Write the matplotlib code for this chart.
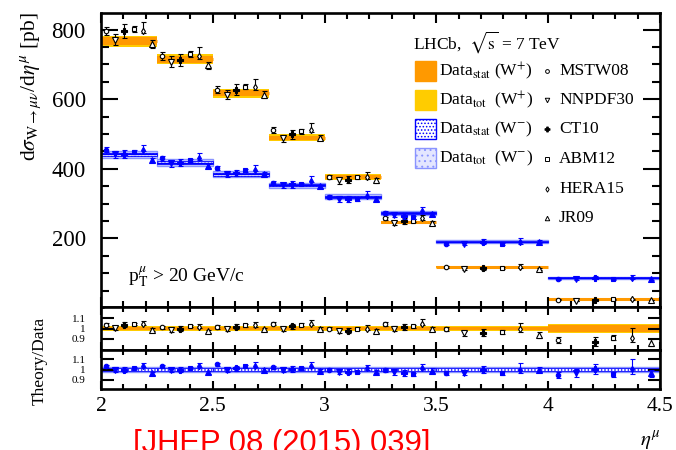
import matplotlib
matplotlib.use("Agg")
import matplotlib.pyplot as plt
from matplotlib.patches import Rectangle
from matplotlib.ticker import MultipleLocator, FuncFormatter

plt.rcParams['font.family'] = ['Liberation Serif', 'DejaVu Serif']
plt.rcParams['mathtext.fontset'] = 'stix'
plt.rcParams['hatch.linewidth'] = 0.7

# ---------------- data ----------------
eta_edges = [2.0, 2.25, 2.5, 2.75, 3.0, 3.25, 3.5, 4.0, 4.5]

# measured dsigma/deta [pb] and relative uncertainties
wplus_xsec = [767, 715, 617, 489, 376, 246, 119, 27]
wplus_stat = [0.014, 0.014, 0.014, 0.014, 0.014, 0.015, 0.018, 0.036]
wplus_tot = [0.021, 0.021, 0.021, 0.021, 0.021, 0.022, 0.026, 0.045]

wminus_xsec = [442, 418, 384, 353, 320, 274, 191, 87]
wminus_stat = [0.010, 0.010, 0.010, 0.010, 0.010, 0.011, 0.012, 0.014]
wminus_tot = [0.022, 0.022, 0.022, 0.022, 0.022, 0.022, 0.024, 0.025]

# theory / data ratios per PDF set
mstw08_wplus = [1.038, 1.013, 1.016, 1.048, 1.000, 1.048, 0.997, 0.889]
nnpdf30_wplus = [1.006, 0.990, 0.994, 0.997, 0.975, 0.997, 0.952, 0.750]
ct10_wplus = [1.038, 0.997, 1.016, 1.022, 0.980, 1.016, 0.959, 0.873]
abm12_wplus = [1.045, 1.022, 1.030, 1.038, 1.000, 1.022, 0.968, 0.911]
hera15_wplus = [1.040, 1.013, 1.030, 1.048, 1.000, 1.048, 0.997, 0.911]
jr09_wplus = [0.990, 0.975, 0.994, 1.000, 0.975, 0.994, 0.937, 0.863]

mstw08_wminus = [1.030, 1.030, 1.050, 1.020, 1.000, 0.994, 0.968, 0.943]
nnpdf30_wminus = [1.000, 0.994, 1.000, 1.000, 0.980, 0.975, 0.968, 0.962]
ct10_wminus = [1.000, 1.000, 1.010, 1.006, 0.980, 0.968, 1.000, 1.006]
abm12_wminus = [1.016, 1.016, 1.030, 1.010, 0.975, 0.952, 0.962, 0.952]
hera15_wminus = [1.030, 1.030, 1.035, 1.035, 1.010, 1.016, 1.000, 1.006]
jr09_wminus = [0.962, 0.975, 1.000, 0.990, 0.980, 0.990, 1.000, 0.962]

# relative theory uncertainties (down, up)
mstw08_err = ([0.016, 0.016, 0.016, 0.017, 0.017, 0.019, 0.022, 0.030],
              [0.016, 0.016, 0.016, 0.017, 0.017, 0.019, 0.022, 0.030])
nnpdf30_err = ([0.022, 0.022, 0.022, 0.022, 0.024, 0.025, 0.027, 0.040],
               [0.022, 0.022, 0.022, 0.022, 0.024, 0.025, 0.027, 0.040])
ct10_err = ([0.025, 0.025, 0.025, 0.026, 0.028, 0.030, 0.038, 0.048],
            [0.025, 0.025, 0.025, 0.026, 0.028, 0.030, 0.038, 0.048])
abm12_err = ([0.011, 0.011, 0.011, 0.012, 0.012, 0.014, 0.020, 0.025],
             [0.011, 0.011, 0.011, 0.012, 0.012, 0.014, 0.020, 0.025])
hera15_err = ([0.010, 0.010, 0.012, 0.012, 0.012, 0.014, 0.030, 0.050],
              [0.032, 0.034, 0.036, 0.036, 0.038, 0.040, 0.060, 0.100])
jr09_err = ([0.015, 0.015, 0.015, 0.015, 0.016, 0.020, 0.028, 0.035],
            [0.015, 0.015, 0.015, 0.015, 0.016, 0.020, 0.028, 0.035])

model_names = ["MSTW08", "NNPDF30", "CT10", "ABM12", "HERA15", "JR09"]
model_wplus = [mstw08_wplus, nnpdf30_wplus, ct10_wplus, abm12_wplus, hera15_wplus, jr09_wplus]
model_wminus = [mstw08_wminus, nnpdf30_wminus, ct10_wminus, abm12_wminus, hera15_wminus, jr09_wminus]
model_err = [mstw08_err, nnpdf30_err, ct10_err, abm12_err, hera15_err, jr09_err]
model_marker = ['o', 'v', 'P', 's', 'd', '^']
model_msize = [3.2, 3.8, 4.2, 3.4, 3.2, 3.8]

# ---------------- style ----------------
C_STAT_P = '#ff9900'
C_TOT_P = '#ffcc00'
C_BLUE = '#0000ff'
C_TOT_M_FACE = '#c4c9ff'
C_TOT_M_EDGE = '#8a94ff'

W, H = 676, 450
fig = plt.figure(figsize=(W / 100, H / 100), dpi=100)
L, R = 101, 660


def box(top, bottom):
    return [L / W, 1 - bottom / H, (R - L) / W, (bottom - top) / H]


ax = fig.add_axes(box(13, 307))
axp = fig.add_axes(box(307, 350))
axm = fig.add_axes(box(350, 389))


def bands(a, vals, stat, tot, plus, ratio=False):
    for i in range(len(vals)):
        lo, hi = eta_edges[i], eta_edges[i + 1]
        c = 1.0 if ratio else vals[i]
        if plus:
            a.add_patch(Rectangle((lo, c * (1 - tot[i])), hi - lo, 2 * c * tot[i],
                                  facecolor=C_TOT_P, edgecolor='none', zorder=1))
            a.add_patch(Rectangle((lo, c * (1 - stat[i])), hi - lo, 2 * c * stat[i],
                                  facecolor=C_STAT_P, edgecolor='none', zorder=1.2))
            if not ratio:
                a.plot([lo, hi], [c, c], color=C_STAT_P, lw=2.2, zorder=1.3,
                       solid_capstyle='butt')
        else:
            a.add_patch(Rectangle((lo, c * (1 - tot[i])), hi - lo, 2 * c * tot[i],
                                  facecolor=C_TOT_M_FACE, edgecolor=C_TOT_M_EDGE,
                                  lw=1.0, zorder=1))
            a.add_patch(Rectangle((lo, c * (1 - stat[i])), hi - lo, 2 * c * stat[i],
                                  facecolor='white', edgecolor=C_BLUE, hatch='.....',
                                  lw=0.6, zorder=1.2))
            if not ratio:
                a.plot([lo, hi], [c, c], color=C_BLUE, lw=1.0, zorder=1.3,
                       solid_capstyle='butt')


def theory(a, data, ratios, plus, ratio_panel=False):
    for k in range(6):
        xs, ys, edn, eup = [], [], [], []
        for i in range(len(data)):
            lo, hi = eta_edges[i], eta_edges[i + 1]
            xs.append(lo + (k + 0.5) / 6 * (hi - lo))
            v = ratios[k][i] if ratio_panel else ratios[k][i] * data[i]
            ys.append(v)
            edn.append(model_err[k][0][i] * v)
            eup.append(model_err[k][1][i] * v)
        col = 'black' if plus else C_BLUE
        face = col if (not plus or model_marker[k] == 'P') else 'white'
        a.errorbar(xs, ys, yerr=[edn, eup], fmt=model_marker[k], ms=model_msize[k],
                   mfc=face, mec=col, mew=0.8, color=col, elinewidth=0.8,
                   capsize=1.8, capthick=0.8, zorder=3)


# main panel
bands(ax, wplus_xsec, wplus_stat, wplus_tot, True)
bands(ax, wminus_xsec, wminus_stat, wminus_tot, False)
theory(ax, wplus_xsec, model_wplus, True)
theory(ax, wminus_xsec, model_wminus, False)

# ratio panels
bands(axp, wplus_xsec, wplus_stat, wplus_tot, True, ratio=True)
theory(axp, wplus_xsec, model_wplus, True, ratio_panel=True)
bands(axm, wminus_xsec, wminus_stat, wminus_tot, False, ratio=True)
theory(axm, wminus_xsec, model_wminus, False, ratio_panel=True)

for a in (ax, axp, axm):
    a.set_xlim(2.0, 4.5)
    a.xaxis.set_major_locator(MultipleLocator(0.5))
    a.xaxis.set_minor_locator(MultipleLocator(0.1))
    a.xaxis.set_major_formatter(FuncFormatter(lambda v, p: f'{v:g}'))
    a.tick_params(axis='both', which='both', direction='in', top=True, right=True)
    for s in a.spines.values():
        s.set_linewidth(1.9)

ax.set_ylim(3, 848)
ax.yaxis.set_major_locator(MultipleLocator(200))
ax.yaxis.set_minor_locator(MultipleLocator(50))
ax.tick_params(axis='y', which='major', length=12, width=1.5, labelsize=16.5, pad=11)
ax.tick_params(axis='y', which='minor', length=6, width=1.5)
ax.tick_params(axis='x', which='major', length=7, width=1.5, labelbottom=False)
ax.tick_params(axis='x', which='minor', length=4, width=1.5)

for a, lim in ((axp, (0.79, 1.21)), (axm, (0.81, 1.19))):
    a.set_ylim(*lim)
    a.set_yticks([0.9, 1.0, 1.1])
    a.set_yticklabels(['0.9', '1', '1.1'])
    a.yaxis.set_minor_locator(MultipleLocator(0.1))
    a.tick_params(axis='y', which='major', length=9, width=1.5, labelsize=8, pad=11)
    a.tick_params(axis='x', which='major', length=6, width=1.5)
    a.tick_params(axis='x', which='minor', length=3.5, width=1.5)
axp.tick_params(axis='x', labelbottom=False)
axm.tick_params(axis='x', labelsize=15.5, pad=6)

# axis titles
fig.text(31 / W, 1 - 12 / H, r'd$\sigma_{\mathrm{W}\rightarrow\mu\nu}$/d$\eta^{\mu}$ [pb]',
         rotation=90, ha='center', va='top', fontsize=15.5)
fig.text(40 / W, 1 - 361 / H, 'Theory/Data', rotation=90, ha='center', va='center',
         fontsize=12.5)
fig.text(660 / W, 1 - 441 / H, r'$\eta^{\mu}$', ha='right', va='center', fontsize=15)
fig.text(128 / W, 1 - 277 / H, r'p$_{\mathrm{T}}^{\mu}$ > 20 GeV/c', ha='left',
         va='center', fontsize=14)
fig.text(133 / W, 1 - 452 / H, '[JHEP 08 (2015) 039]', ha='left', va='baseline',
         fontsize=22.3, color='#ff0000', family=['Liberation Sans', 'DejaVu Sans'])

# legend
ov = fig.add_axes([0, 0, 1, 1], zorder=5)
ov.set_xlim(0, W)
ov.set_ylim(H, 0)
ov.axis('off')
ov.text(413, 42, r'LHCb,  $\sqrt{\mathrm{s}}$ = 7 TeV', ha='left', va='center', fontsize=12.5)

left_rows = [71, 100, 129, 158]
left_labels = [r'Data$_{\mathrm{stat}}$ (W$^{+}$)', r'Data$_{\mathrm{tot}}$  (W$^{+}$)',
               r'Data$_{\mathrm{stat}}$ (W$^{-}$)', r'Data$_{\mathrm{tot}}$  (W$^{-}$)']
left_face = [C_STAT_P, C_TOT_P, 'white', '#e4e6ff']
left_edge = [C_STAT_P, C_TOT_P, C_BLUE, C_TOT_M_EDGE]
left_hatch = [None, None, '.....', '...']
for y, lab, fc, ec, ht in zip(left_rows, left_labels, left_face, left_edge, left_hatch):
    ov.add_patch(Rectangle((415, y - 10), 21, 20, facecolor=fc, edgecolor=ec, lw=1.0,
                           hatch=ht))
    ov.text(439, y, lab, ha='left', va='center', fontsize=12.5)

right_rows = [71, 100, 129, 159, 189, 218]
for y, name, mk, msz in zip(right_rows, model_names, model_marker, model_msize):
    face = 'black' if mk == 'P' else 'white'
    ov.plot([547], [y], marker=mk, ms=msz * 0.85, mfc=face, mec='black', mew=0.7,
            ls='none')
    ov.text(559, y, name, ha='left', va='center', fontsize=12.5)

fig.savefig('out.png', dpi=100)
